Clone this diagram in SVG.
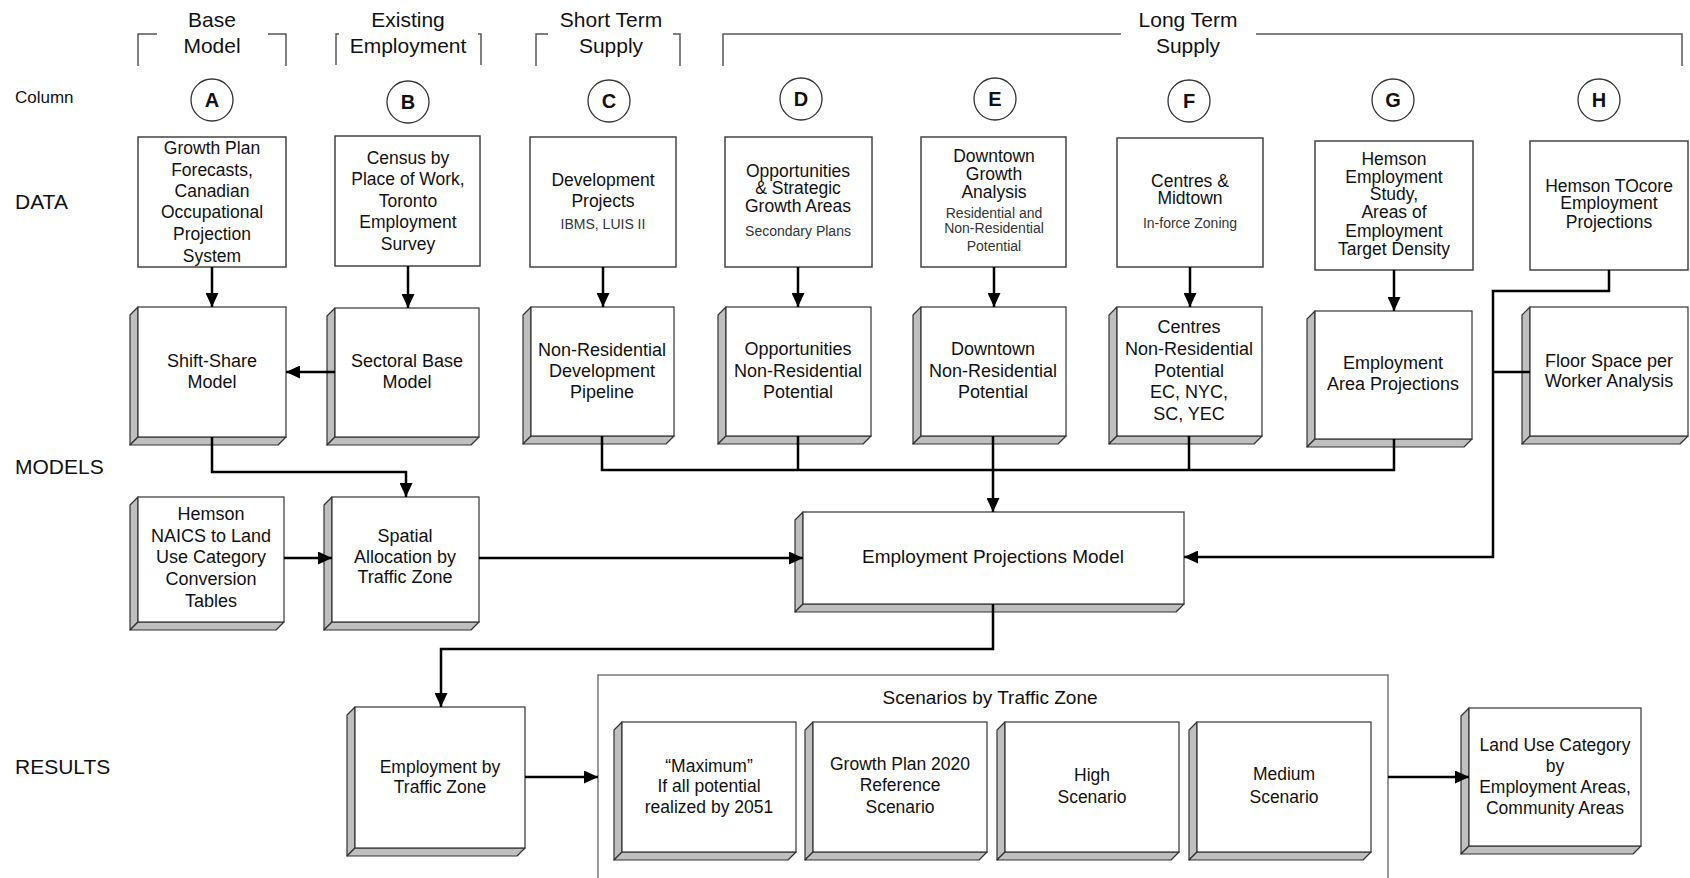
<svg xmlns="http://www.w3.org/2000/svg" width="1690" height="878" viewBox="0 0 1690 878">
  <style>
    text { font-family: "Liberation Sans", Arial, sans-serif; fill: #111; text-anchor: middle; }
    .hdr { font-size: 21px; }
    .row { font-size: 21px; text-anchor: start; }
    .col { font-size: 17px; text-anchor: start; }
    .t { font-size: 17.5px; }
    .m { font-size: 18px; }
    .s { font-size: 14px; fill: #333; }
    .let { font-size: 20px; font-weight: bold; }
    .bracket { fill: none; stroke: #555; stroke-width: 1.5; }
    .circ { fill: #fff; stroke: #333; stroke-width: 1.3; }
    .data { fill: #fff; stroke: #444; stroke-width: 1.5; }
    .bev { fill: #bfbfbf; stroke: #333; stroke-width: 1.2; stroke-linejoin: round; }
    .face { fill: #fff; stroke: #333; stroke-width: 1.2; }
    .frame { fill: none; stroke: #777; stroke-width: 1.5; }
    .conn path { fill: none; stroke: #000; stroke-width: 2.5; }
    .arr { marker-end: url(#ah); }
  </style>
  <defs>
    <marker id="ah" viewBox="0 0 14 13" refX="14" refY="6.5" markerWidth="14" markerHeight="13" markerUnits="userSpaceOnUse" orient="auto">
      <path d="M0,0 L14,6.5 L0,13 z" fill="#000"/>
    </marker>
  </defs>
  <rect width="1690" height="878" fill="#fff"/>

  <!-- row labels -->
  <g id="row-labels">
    <text class="col" x="15" y="103">Column</text>
    <text class="row" x="15" y="209">DATA</text>
    <text class="row" x="15" y="474">MODELS</text>
    <text class="row" x="15" y="774">RESULTS</text>
  </g>

  <!-- column group headers -->
  <g id="hdr-base">
    <path class="bracket" d="M157,34 H138 V66 M268,34 H286 V66"/>
    <text class="hdr" x="212" y="27">Base</text>
    <text class="hdr" x="212" y="53">Model</text>
  </g>
  <g id="hdr-existing">
    <path class="bracket" d="M339,34 H336 V65 M478,34 H481 V65"/>
    <text class="hdr" x="408" y="27">Existing</text>
    <text class="hdr" x="408" y="53">Employment</text>
  </g>
  <g id="hdr-short">
    <path class="bracket" d="M548,34 H536 V66 M673,34 H680 V66"/>
    <text class="hdr" x="611" y="27">Short Term</text>
    <text class="hdr" x="611" y="53">Supply</text>
  </g>
  <g id="hdr-long">
    <path class="bracket" d="M723,66 V34 H1121 M1256,34 H1682 V66"/>
    <text class="hdr" x="1188" y="27">Long Term</text>
    <text class="hdr" x="1188" y="53">Supply</text>
  </g>

  <!-- column letters -->
  <g id="col-letters">
    <circle class="circ" cx="212" cy="100" r="21"/><text class="let" x="212" y="107">A</text>
    <circle class="circ" cx="408" cy="102" r="21"/><text class="let" x="408" y="109">B</text>
    <circle class="circ" cx="609" cy="101" r="21"/><text class="let" x="609" y="108">C</text>
    <circle class="circ" cx="801" cy="99" r="21"/><text class="let" x="801" y="106">D</text>
    <circle class="circ" cx="995" cy="99" r="21"/><text class="let" x="995" y="106">E</text>
    <circle class="circ" cx="1189" cy="101" r="21"/><text class="let" x="1189" y="108">F</text>
    <circle class="circ" cx="1393" cy="100" r="21"/><text class="let" x="1393" y="107">G</text>
    <circle class="circ" cx="1599" cy="100" r="21"/><text class="let" x="1599" y="107">H</text>
  </g>

  <!-- data sources -->
  <g id="data-a">
    <rect class="data" x="138" y="137" width="148" height="130"/>
    <text class="t" x="212" y="154">Growth Plan</text>
    <text class="t" x="212" y="176">Forecasts,</text>
    <text class="t" x="212" y="197">Canadian</text>
    <text class="t" x="212" y="218">Occupational</text>
    <text class="t" x="212" y="240">Projection</text>
    <text class="t" x="212" y="262">System</text>
  </g>
  <g id="data-b">
    <rect class="data" x="335" y="136" width="145" height="130"/>
    <text class="t" x="408" y="164">Census by</text>
    <text class="t" x="408" y="185">Place of Work,</text>
    <text class="t" x="408" y="207">Toronto</text>
    <text class="t" x="408" y="228">Employment</text>
    <text class="t" x="408" y="250">Survey</text>
  </g>
  <g id="data-c">
    <rect class="data" x="530" y="137" width="146" height="130"/>
    <text class="t" x="603" y="186">Development</text>
    <text class="t" x="603" y="207">Projects</text>
    <text class="s" x="603" y="229">IBMS, LUIS II</text>
  </g>
  <g id="data-d">
    <rect class="data" x="725" y="137" width="147" height="130"/>
    <text class="t" x="798" y="177">Opportunities</text>
    <text class="t" x="798" y="194">&amp; Strategic</text>
    <text class="t" x="798" y="212">Growth Areas</text>
    <text class="s" x="798" y="236">Secondary Plans</text>
  </g>
  <g id="data-e">
    <rect class="data" x="921" y="137" width="145" height="130"/>
    <text class="t" x="994" y="162">Downtown</text>
    <text class="t" x="994" y="180">Growth</text>
    <text class="t" x="994" y="198">Analysis</text>
    <text class="s" x="994" y="218">Residential and</text>
    <text class="s" x="994" y="233">Non-Residential</text>
    <text class="s" x="994" y="251">Potential</text>
  </g>
  <g id="data-f">
    <rect class="data" x="1117" y="138" width="146" height="129"/>
    <text class="t" x="1190" y="187">Centres &amp;</text>
    <text class="t" x="1190" y="204">Midtown</text>
    <text class="s" x="1190" y="228">In-force Zoning</text>
  </g>
  <g id="data-g">
    <rect class="data" x="1315" y="141" width="158" height="129"/>
    <text class="t" x="1394" y="165">Hemson</text>
    <text class="t" x="1394" y="183">Employment</text>
    <text class="t" x="1394" y="200">Study,</text>
    <text class="t" x="1394" y="218">Areas of</text>
    <text class="t" x="1394" y="237">Employment</text>
    <text class="t" x="1394" y="255">Target Density</text>
  </g>
  <g id="data-h">
    <rect class="data" x="1530" y="141" width="158" height="129"/>
    <text class="t" x="1609" y="192">Hemson TOcore</text>
    <text class="t" x="1609" y="209">Employment</text>
    <text class="t" x="1609" y="228">Projections</text>
  </g>

  <!-- models -->
  <g id="shift-share">
    <polygon class="bev" points="138,307 130,315 130,445 138,437"/>
    <polygon class="bev" points="138,437 130,445 278,445 286,437"/>
    <rect class="face" x="138" y="307" width="148" height="130"/>
    <text class="m" x="212" y="367">Shift-Share</text>
    <text class="m" x="212" y="388">Model</text>
  </g>
  <g id="sectoral-base">
    <polygon class="bev" points="335,308 327,316 327,445 335,437"/>
    <polygon class="bev" points="335,437 327,445 471,445 479,437"/>
    <rect class="face" x="335" y="308" width="144" height="129"/>
    <text class="m" x="407" y="367">Sectoral Base</text>
    <text class="m" x="407" y="388">Model</text>
  </g>
  <g id="nr-pipeline">
    <polygon class="bev" points="531,307 523,315 523,444 531,436"/>
    <polygon class="bev" points="531,436 523,444 666,444 674,436"/>
    <rect class="face" x="531" y="307" width="143" height="129"/>
    <text class="m" x="602" y="356">Non-Residential</text>
    <text class="m" x="602" y="377">Development</text>
    <text class="m" x="602" y="398">Pipeline</text>
  </g>
  <g id="opportunities-nr">
    <polygon class="bev" points="726,307 718,315 718,444 726,436"/>
    <polygon class="bev" points="726,436 718,444 863,444 871,436"/>
    <rect class="face" x="726" y="307" width="145" height="129"/>
    <text class="m" x="798" y="355">Opportunities</text>
    <text class="m" x="798" y="377">Non-Residential</text>
    <text class="m" x="798" y="398">Potential</text>
  </g>
  <g id="downtown-nr">
    <polygon class="bev" points="921,307 913,315 913,444 921,436"/>
    <polygon class="bev" points="921,436 913,444 1058,444 1066,436"/>
    <rect class="face" x="921" y="307" width="145" height="129"/>
    <text class="m" x="993" y="355">Downtown</text>
    <text class="m" x="993" y="377">Non-Residential</text>
    <text class="m" x="993" y="398">Potential</text>
  </g>
  <g id="centres-nr">
    <polygon class="bev" points="1117,307 1109,315 1109,444 1117,436"/>
    <polygon class="bev" points="1117,436 1109,444 1254,444 1262,436"/>
    <rect class="face" x="1117" y="307" width="145" height="129"/>
    <text class="m" x="1189" y="333">Centres</text>
    <text class="m" x="1189" y="355">Non-Residential</text>
    <text class="m" x="1189" y="377">Potential</text>
    <text class="m" x="1189" y="398">EC, NYC,</text>
    <text class="m" x="1189" y="420">SC, YEC</text>
  </g>
  <g id="employment-area-proj">
    <polygon class="bev" points="1315,311 1307,319 1307,447 1315,439"/>
    <polygon class="bev" points="1315,439 1307,447 1464,447 1472,439"/>
    <rect class="face" x="1315" y="311" width="157" height="128"/>
    <text class="m" x="1393" y="369">Employment</text>
    <text class="m" x="1393" y="390">Area Projections</text>
  </g>
  <g id="floor-space">
    <polygon class="bev" points="1530,307 1522,315 1522,444 1530,436"/>
    <polygon class="bev" points="1530,436 1522,444 1680,444 1688,436"/>
    <rect class="face" x="1530" y="307" width="158" height="129"/>
    <text class="m" x="1609" y="367">Floor Space per</text>
    <text class="m" x="1609" y="387">Worker Analysis</text>
  </g>
  <g id="naics-tables">
    <polygon class="bev" points="138,497 130,505 130,630 138,622"/>
    <polygon class="bev" points="138,622 130,630 276,630 284,622"/>
    <rect class="face" x="138" y="497" width="146" height="125"/>
    <text class="m" x="211" y="520">Hemson</text>
    <text class="m" x="211" y="542">NAICS to Land</text>
    <text class="m" x="211" y="563">Use Category</text>
    <text class="m" x="211" y="585">Conversion</text>
    <text class="m" x="211" y="607">Tables</text>
  </g>
  <g id="spatial-allocation">
    <polygon class="bev" points="332,497 324,505 324,630 332,622"/>
    <polygon class="bev" points="332,622 324,630 471,630 479,622"/>
    <rect class="face" x="332" y="497" width="147" height="125"/>
    <text class="m" x="405" y="542">Spatial</text>
    <text class="m" x="405" y="563">Allocation by</text>
    <text class="m" x="405" y="583">Traffic Zone</text>
  </g>
  <g id="projections-model">
    <polygon class="bev" points="803,512 795,520 795,612 803,604"/>
    <polygon class="bev" points="803,604 795,612 1176,612 1184,604"/>
    <rect class="face" x="803" y="512" width="381" height="92"/>
    <text x="993" y="563" style="font-size:19px">Employment Projections Model</text>
  </g>

  <!-- results -->
  <g id="employment-by-tz">
    <polygon class="bev" points="355,707 347,715 347,856 355,848"/>
    <polygon class="bev" points="355,848 347,856 517,856 525,848"/>
    <rect class="face" x="355" y="707" width="170" height="141"/>
    <text class="t" x="440" y="773">Employment by</text>
    <text class="t" x="440" y="793">Traffic Zone</text>
  </g>
  <g id="scenarios">
    <path class="frame" d="M598,880 V675 H1388 V880"/>
    <text x="990" y="704" style="font-size:19px">Scenarios by Traffic Zone</text>
  </g>
  <g id="scenario-maximum">
    <polygon class="bev" points="622,722 614,730 614,860 622,852"/>
    <polygon class="bev" points="622,852 614,860 788,860 796,852"/>
    <rect class="face" x="622" y="722" width="174" height="130"/>
    <text class="t" x="709" y="772">“Maximum”</text>
    <text class="t" x="709" y="792">If all potential</text>
    <text class="t" x="709" y="813">realized by 2051</text>
  </g>
  <g id="scenario-growth-plan">
    <polygon class="bev" points="813,722 805,730 805,860 813,852"/>
    <polygon class="bev" points="813,852 805,860 979,860 987,852"/>
    <rect class="face" x="813" y="722" width="174" height="130"/>
    <text class="t" x="900" y="770">Growth Plan 2020</text>
    <text class="t" x="900" y="791">Reference</text>
    <text class="t" x="900" y="813">Scenario</text>
  </g>
  <g id="scenario-high">
    <polygon class="bev" points="1005,722 997,730 997,860 1005,852"/>
    <polygon class="bev" points="1005,852 997,860 1171,860 1179,852"/>
    <rect class="face" x="1005" y="722" width="174" height="130"/>
    <text class="t" x="1092" y="781">High</text>
    <text class="t" x="1092" y="803">Scenario</text>
  </g>
  <g id="scenario-medium">
    <polygon class="bev" points="1197,722 1189,730 1189,860 1197,852"/>
    <polygon class="bev" points="1197,852 1189,860 1363,860 1371,852"/>
    <rect class="face" x="1197" y="722" width="174" height="130"/>
    <text class="t" x="1284" y="780">Medium</text>
    <text class="t" x="1284" y="803">Scenario</text>
  </g>
  <g id="land-use-category">
    <polygon class="bev" points="1469,708 1461,716 1461,854 1469,846"/>
    <polygon class="bev" points="1469,846 1461,854 1633,854 1641,846"/>
    <rect class="face" x="1469" y="708" width="172" height="138"/>
    <text class="t" x="1555" y="751">Land Use Category</text>
    <text class="t" x="1555" y="772">by</text>
    <text class="t" x="1555" y="793">Employment Areas,</text>
    <text class="t" x="1555" y="814">Community Areas</text>
  </g>

  <!-- connectors -->
  <g id="connectors" class="conn">
    <path class="arr" d="M212,267 V307"/>
    <path class="arr" d="M408,266 V308"/>
    <path class="arr" d="M603,267 V307"/>
    <path class="arr" d="M798,267 V307"/>
    <path class="arr" d="M994,267 V307"/>
    <path class="arr" d="M1190,267 V307"/>
    <path class="arr" d="M1394,270 V311"/>
    <path class="arr" d="M335,372 H286"/>
    <path class="arr" d="M212,437 V472 H406 V497"/>
    <path class="arr" d="M284,558 H332"/>
    <path class="arr" d="M479,558 H803"/>
    <path d="M602,436 V470 H1394 V439"/>
    <path d="M798,436 V470"/>
    <path d="M1189,436 V470"/>
    <path class="arr" d="M993,436 V512"/>
    <path class="arr" d="M1609,270 V291 H1493 V557 H1184"/>
    <path d="M1493,372 H1530"/>
    <path class="arr" d="M993,604 V649 H441 V707"/>
    <path class="arr" d="M525,777 H598"/>
    <path class="arr" d="M1388,777 H1469"/>
  </g>
</svg>
